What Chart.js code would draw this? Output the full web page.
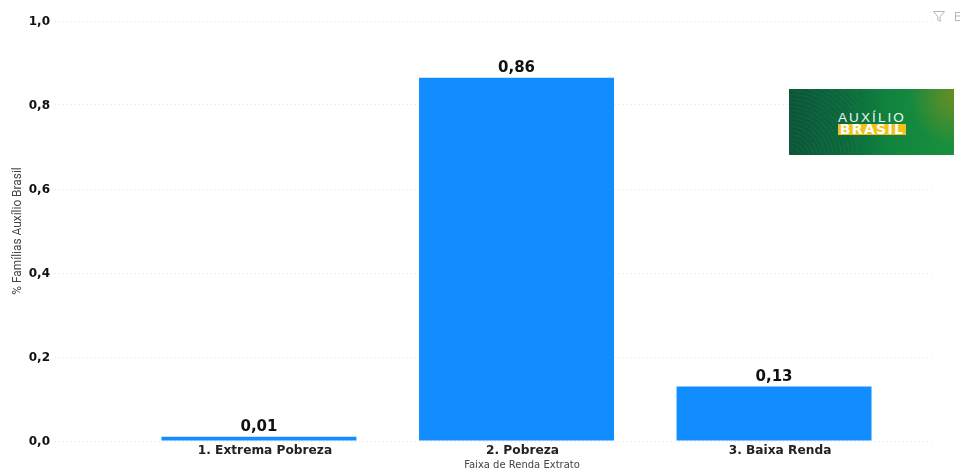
<!DOCTYPE html>
<html>
<head>
<meta charset="utf-8">
<script src="https://cdn.jsdelivr.net/npm/chart.js@4"></script>
<style>
    html, body { margin: 0; padding: 0; background: #fff; }
    #wrap { position: relative; width: 960px; height: 469px; overflow: hidden; }
    #logo {
        position: absolute; left: 789px; top: 89px; width: 165px; height: 66px; overflow: hidden;
        background:
            repeating-radial-gradient(circle at 0px 70px, rgba(255,255,255,0.04) 0 1px, rgba(255,255,255,0) 1px 4px) 0 0 / 70px 66px no-repeat,
            radial-gradient(ellipse 45px 50px at 100% 10%, rgba(125,140,30,0.8) 0%, rgba(125,140,30,0) 100%),
            linear-gradient(90deg, #0a5638 0%, #0b6a3c 35%, #11853f 62%, #1a903c 100%);
    }
    #logo .a1 { position: absolute; left: 49px; top: 22px; font: 13.5px/13px "Liberation Sans", sans-serif; color: #eef6ee; letter-spacing: 2.1px; }
    #logo .a2 {
        position: absolute; left: 49px; top: 35px; width: 68px; height: 11px; background: #f2c21a;
        font: bold 14px/11px "DejaVu Sans", sans-serif; color: #fff; text-align: center; letter-spacing: 1.3px;
    }
    #icons { position: absolute; left: 933px; top: 11px; }
</style>
</head>
<body>
<div id="wrap">
    <canvas id="chart" width="960" height="469"></canvas>
    <div id="logo"><div class="a1">AUXÍLIO</div><div class="a2">BRASIL</div></div>
    <svg id="icons" width="27" height="12" viewBox="0 0 27 12">
        <path d="M0.5 0.5 H11.5 L7.2 5.5 V10.5 L4.8 9 V5.5 Z" fill="none" stroke="#b5b5b5" stroke-width="1"/>
        <rect x="22.5" y="1.5" width="8" height="8" fill="none" stroke="#b5b5b5" stroke-width="1"/>
        <path d="M22.5 5 H27" stroke="#b5b5b5" stroke-width="1"/>
    </svg>
</div>
<script>
const categories = ['1. Extrema Pobreza', '2. Pobreza', '3. Baixa Renda'];
const values = [0.01, 0.865, 0.13];
const valueLabels = ['0,01', '0,86', '0,13'];
const yTicks = [0, 0.2, 0.4, 0.6, 0.8, 1.0];
const xTitle = 'Faixa de Renda Extrato';

// value labels, tick labels and x title, all placed from the scales
const textLayer = {
    id: 'textLayer',
    afterDatasetsDraw(chart) {
        const ctx = chart.ctx;
        const bars = chart.getDatasetMeta(0).data;
        const xAxis = chart.scales.x;
        const yAxis = chart.scales.y;
        ctx.save();

        ctx.font = 'bold 15px "DejaVu Sans"';
        ctx.fillStyle = '#111111';
        ctx.textAlign = 'center';
        ctx.textBaseline = 'bottom';
        bars.forEach(function(bar, i) {
            ctx.fillText(valueLabels[i], bar.x, bar.y - 2);
        });

        ctx.font = 'bold 12px "DejaVu Sans"';
        ctx.textAlign = 'right';
        ctx.textBaseline = 'middle';
        yTicks.forEach(function(v) {
            ctx.fillText(v.toFixed(1).replace('.', ','), 50, yAxis.getPixelForValue(v) + 0.5);
        });

        ctx.font = 'bold 12.2px "DejaVu Sans"';
        ctx.fillStyle = '#222222';
        ctx.textAlign = 'center';
        categories.forEach(function(c, i) {
            ctx.fillText(c, xAxis.getPixelForValue(i) + 6, 451);
        });

        ctx.font = '10px "DejaVu Sans"';
        ctx.fillStyle = '#444444';
        ctx.fillText(xTitle, xAxis.getPixelForValue(1) + 5.5, 465);

        ctx.restore();
    }
};

new Chart(document.getElementById('chart').getContext('2d'), {
    type: 'bar',
    data: {
        datasets: [{
            data: categories.map((c, i) => ({ x: i, y: values[i] })),
            backgroundColor: '#118dff',
            barPercentage: 0.757,
            categoryPercentage: 1
        }]
    },
    options: {
        responsive: false,
        animation: false,
        layout: { padding: { top: 21, right: 25, left: 0, bottom: 0 } },
        plugins: { legend: { display: false }, tooltip: { enabled: false } },
        scales: {
            x: {
                type: 'linear',
                offset: false,
                min: -0.792,
                max: 2.625,
                afterBuildTicks(axis) { axis.ticks = categories.map((c, i) => ({ value: i })); },
                afterFit(axis) { axis.height = 28; },
                grid: { display: false },
                border: { display: false },
                ticks: { display: false }
            },
            y: {
                min: 0,
                max: 1,
                afterBuildTicks(axis) { axis.ticks = yTicks.map(v => ({ value: v })); },
                afterFit(axis) { axis.width = 55; },
                grid: { color: '#e6e6e6', drawTicks: false, lineWidth: 1 },
                border: { display: false, dash: [1, 3] },
                ticks: { display: false },
                title: {
                    display: true,
                    text: '% Famílias Auxílio Brasil',
                    color: '#444444',
                    padding: { top: 11, bottom: 0 },
                    font: { family: 'Roboto', size: 11.9 }
                }
            }
        }
    },
    plugins: [textLayer]
});
</script>
</body>
</html>
